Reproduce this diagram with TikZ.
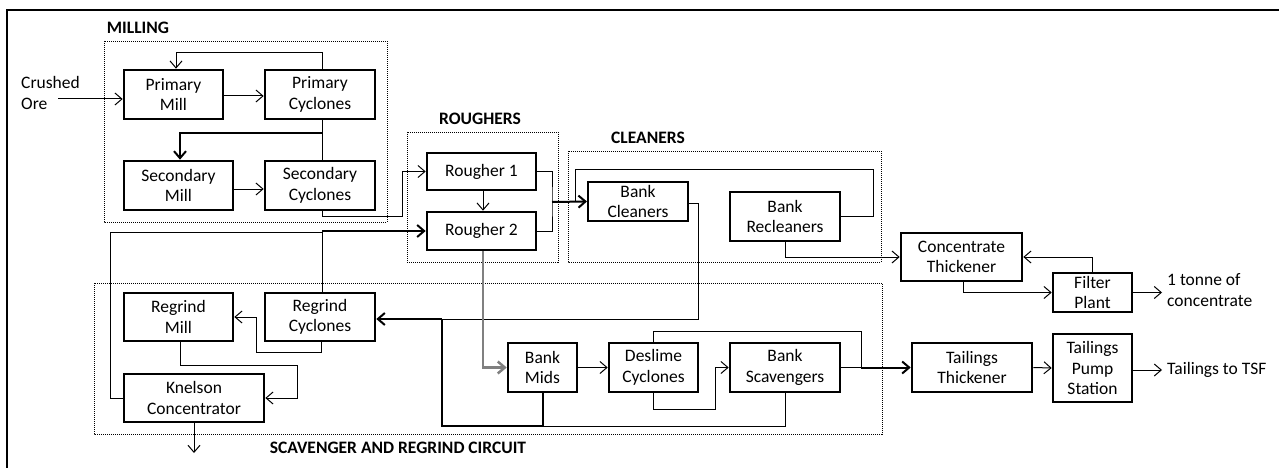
\documentclass[tikz,border=0pt]{standalone}
\usepackage{fontspec}
\setmainfont{Carlito}
\usetikzlibrary{arrows.meta}
\definecolor{flowgray}{RGB}{128,128,128}
\tikzset{
  box/.style={draw, line width=2.6pt, align=center, inner sep=0pt, font=\fontsize{17.5}{20.5}\selectfont},
  thinbox/.style={box, line width=2pt},
  lbl/.style={font=\fontsize{17.5}{20.5}\selectfont, inner sep=0pt, align=left},
  grp/.style={font=\bfseries\fontsize{17.5}{20.5}\selectfont, inner sep=0pt},
  area/.style={draw, line width=0.8pt, dash pattern=on 1pt off 1pt},
  conn/.style={line width=1pt},
  thk/.style={line width=2pt},
  arr/.style={conn, -{Straight Barb[length=7pt,width=12pt]}},
  tarr/.style={thk, -{Straight Barb[length=7pt,width=12pt]}},
  garr/.style={line width=2.5pt, draw=flowgray, -{Straight Barb[length=7pt,width=12pt]}},
}
\begin{document}
\begin{tikzpicture}[x=1pt,y=-1pt]
\useasboundingbox (0,0) rectangle (1279,468);
\draw[line width=1.5pt] (7,10) rectangle (1290,480);

% group areas
\draw[area] (104,41) rectangle (387,222);
\draw[area] (407,132) rectangle (558,262);
\draw[area] (568,151) rectangle (881,262);
\draw[area] (94,283) rectangle (882,434);
\node[grp] (lmill) at (138,28) {MILLING};
\node[grp] (lrough) at (480,119) {ROUGHERS};
\node[grp] (lclean) at (648,138) {CLEANERS};
\node[grp] (lscav) at (398,448) {SCAVENGER AND REGRIND CIRCUIT};

% boxes
\node[box, minimum width=99, minimum height=49] (pmill) at (173.5,94.5) {Primary\\Mill};
\node[box, minimum width=110, minimum height=49] (pcyc) at (320,94.5) {Primary\\Cyclones};
\node[box, minimum width=109, minimum height=49] (smill) at (178.5,185.5) {Secondary\\Mill};
\node[box, minimum width=110, minimum height=49] (scyc) at (320,185.5) {Secondary\\Cyclones};
\node[box, minimum width=109, minimum height=37] (r1) at (481.5,171.5) {Rougher 1};
\node[box, minimum width=109, minimum height=38] (r2) at (481.5,231) {Rougher 2};
\node[thinbox, minimum width=100, minimum height=39] (bclean) at (638,201.5) {Bank\\Cleaners};
\node[box, minimum width=110, minimum height=49] (brecl) at (785,216.5) {Bank\\Recleaners};
\node[box, minimum width=121, minimum height=48] (cthick) at (961.5,257) {Concentrate\\Thickener};
\node[box, minimum width=79, minimum height=39] (filter) at (1092.5,292.5) {Filter\\Plant};
\node[box, minimum width=120, minimum height=49] (tthick) at (972,367.5) {Tailings\\Thickener};
\node[box, minimum width=79, minimum height=68] (pump) at (1092.5,368) {Tailings\\Pump\\Station};
\node[box, minimum width=69, minimum height=49] (bmids) at (542.5,367.5) {Bank\\Mids};
\node[box, minimum width=89, minimum height=49] (deslime) at (653.5,367.5) {Deslime\\Cyclones};
\node[box, minimum width=110, minimum height=49] (bscav) at (785,367.5) {Bank\\Scavengers};
\node[box, minimum width=109, minimum height=48] (rmill) at (178.5,317) {Regrind\\Mill};
\node[box, minimum width=110, minimum height=48] (rcyc) at (320,317) {Regrind\\Cyclones};
\node[box, minimum width=140, minimum height=48] (knelson) at (194,398) {Knelson\\Concentrator};

% free texts
\node[lbl, anchor=west] (ore) at (21,93) {Crushed\\Ore};
\node[lbl, anchor=west] (conc) at (1167,290) {1 tonne of\\concentrate};
\node[lbl, anchor=west] (tsf) at (1167,370) {Tailings to TSF};
\coordinate (orein) at (58,99);
\coordinate (concin) at (1162,292.5);
\coordinate (tsfin) at (1162,370);
\coordinate (kout) at (194,453);

% milling
\draw[arr] (orein) -- (orein -| pmill.west);
\draw[arr] ([yshift=-1.5pt]pmill.east) -- ([yshift=-1.5pt]pcyc.west);
\draw[arr] ([xshift=2pt]pcyc.north) |- (176,53) -- ([xshift=2.5pt]pmill.north);
\draw[conn] ([xshift=2pt]pcyc.south) -- ([xshift=2pt]scyc.north);
\draw[tarr] (322,133) -| ([xshift=1.5pt]smill.north);
\draw[arr] ([yshift=-3.5pt]smill.east) -- ([yshift=-3.5pt]scyc.west);
\draw[arr] ([xshift=2pt]scyc.south) |- (402,216) |- (r1.west);

% roughers
\draw[arr] ([xshift=1.5pt]r1.south) -- ([xshift=1.5pt]r2.north);
\draw[conn] (r1.east) -| (552,202) |- (r2.east);
\coordinate (rj) at (552,202);
\draw[tarr] (rj) -- (bclean.west);

% cleaners
\draw[conn] (brecl.east) -| (873,169) -| (575,202);
\draw[arr] (brecl.south) |- (cthick.west);
\draw[conn] ([yshift=-1.5pt]bclean.east) -| (698,319) -- (442,319);
\draw[tarr] (442,319) -- ([yshift=-2pt]rcyc.east);

% scavenger circuit
\draw[thk] (bmids.south) |- (442,426) -- (442,319);
\draw[conn] (bscav.south) |- (bmids.south |- 0,426);
\draw[garr] ([xshift=1.5pt]r2.south) |- (bmids.west);
\draw[arr] (bmids.east) -- (deslime.west);
\draw[conn] (deslime.north) |- (861,331) -- (861,368);
\draw[arr] (deslime.south) |- (715,409) |- (bscav.west);
\draw[conn] (bscav.east) -- (861,367.5);
\draw[tarr] (861,367.5) -- (tthick.west);

% regrind
\draw[conn] ([xshift=2pt]rcyc.north) -- (322,232);
\draw[conn] (knelson.west) -| (110,232) -- (322,232);
\draw[tarr] (322,231) -- (r2.west);
\draw[arr] ([xshift=1pt]rcyc.south) |- (256,352) |- (rmill.east);
\draw[arr] ([xshift=1.5pt]rmill.south) |- (297,365) |- (knelson.east);
\draw[arr] (knelson.south) -- (kout);

% concentrate and tailings
\draw[arr] ([xshift=1.5pt]cthick.south) |- (filter.west);
\draw[arr] (filter.north) |- (cthick.east);
\draw[arr] (filter.east) -- (concin);
\draw[arr] (tthick.east) -- (pump.west);
\draw[arr] ([yshift=-2pt]pump.east) -- (tsfin);
\end{tikzpicture}
\end{document}
